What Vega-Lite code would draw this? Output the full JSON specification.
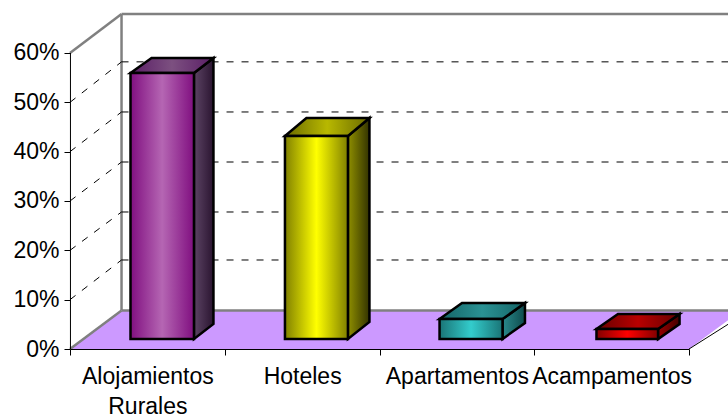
{"$schema":"https://vega.github.io/schema/vega-lite/v6.json","width":658,"height":335,"padding":{"left":70,"top":14,"right":0,"bottom":67},"autosize":{"type":"none"},"background":"white","config":{"view":{"stroke":null},"font":"Liberation Sans"},
"datasets":{
"cats":[{"category":"Alojamientos Rurales","y":0},{"category":"Hoteles","y":0},{"category":"Apartamentos","y":0},{"category":"Acampamentos","y":0}],
"frame":[{"x":0,"x2":0.333,"y":60,"y2":67.9},{"x":0.333,"x2":0.333,"y":67.9,"y2":7.8},{"x":0.333,"x2":4.252,"y":67.9,"y2":67.9},{"x":0.333,"x2":4.252,"y":7.8,"y2":7.8},{"x":0,"x2":0.333,"y":0,"y2":7.8}],
"floor":[{"y":0,"x":0,"x2":4},{"y":7.7,"x":0.333,"x2":4.333}],
"wall":[{"y":18.04},{"y":27.77},{"y":37.9},{"y":48.04},{"y":58.2}],
"diag":[{"y":10,"y2":18.04},{"y":20,"y2":27.77},{"y":30,"y2":37.9},{"y":40,"y2":48.04},{"y":50,"y2":58.2}],
"bars":[
{"category":"Alojamientos Rurales","value":54,"x":0.391,"x2":0.801,"y":55.95,"y2":2.03},
{"category":"Hoteles","value":41,"x":1.389,"x2":1.796,"y":43.18,"y2":2.03},
{"category":"Apartamentos","value":4,"x":2.388,"x2":2.795,"y":6.08,"y2":2.03},
{"category":"Acampamentos","value":2,"x":3.402,"x2":3.8,"y":4.05,"y2":2.03}],
"sides":[
{"category":"Alojamientos Rurales","x":0.801,"y":55.95,"y2":2.03},{"category":"Alojamientos Rurales","x":0.927,"y":58.99,"y2":5.07},
{"category":"Hoteles","x":1.796,"y":43.18,"y2":2.03},{"category":"Hoteles","x":1.935,"y":46.83,"y2":5.47},
{"category":"Apartamentos","x":2.795,"y":6.08,"y2":2.03},{"category":"Apartamentos","x":2.94,"y":9.32,"y2":5.27},
{"category":"Acampamentos","x":3.8,"y":4.05,"y2":2.03},{"category":"Acampamentos","x":3.939,"y":7.09,"y2":5.07}],
"tops":[
{"category":"Alojamientos Rurales","y":55.95,"x":0.391,"x2":0.801},{"category":"Alojamientos Rurales","y":58.99,"x":0.527,"x2":0.927},
{"category":"Hoteles","y":43.18,"x":1.389,"x2":1.796},{"category":"Hoteles","y":46.83,"x":1.528,"x2":1.935},
{"category":"Apartamentos","y":6.08,"x":2.388,"x2":2.795},{"category":"Apartamentos","y":9.32,"x":2.533,"x2":2.94},
{"category":"Acampamentos","y":4.05,"x":3.402,"x2":3.8},{"category":"Acampamentos","y":7.09,"x":3.541,"x2":3.939}]
},
"resolve":{"scale":{"x":"independent"},"axis":{"x":"independent"}},
"layer":[
{"layer":[
{"data":{"name":"floor"},"mark":{"type":"area","orient":"horizontal","fill":"#CC99FF","clip":true},"encoding":{"y":{"field":"y","type":"quantitative","scale":{"domain":[0,67.9],"nice":false,"zero":false},"axis":{"values":[0,10,20,30,40,50,60],"labelExpr":"datum.value + '%'","grid":false,"title":null,"domain":false,"tickColor":"#000000","tickSize":6,"labelFontSize":23,"labelColor":"#000000","labelPadding":5,"labelFont":"Liberation Sans","labelOverlap":false,"zindex":1}},"x":{"field":"x","type":"quantitative","scale":{"domain":[0,4.252],"nice":false,"zero":false},"axis":null},"x2":{"field":"x2"}}},
{"data":{"name":"frame"},"mark":{"type":"rule","stroke":"#808080","strokeWidth":2.5},"encoding":{"x":{"field":"x","type":"quantitative"},"x2":{"field":"x2"},"y":{"field":"y","type":"quantitative"},"y2":{"field":"y2"}}},
{"data":{"values":[{"x":0.003,"y":0,"y2":60}]},"mark":{"type":"rule","stroke":"#000000","strokeWidth":1},"encoding":{"x":{"field":"x","type":"quantitative"},"y":{"field":"y","type":"quantitative"},"y2":{"field":"y2"}}},
{"data":{"values":[{"x":4,"x2":4.252,"y":0,"y2":5.0}]},"mark":{"type":"rule","stroke":"#000000","strokeWidth":1,"clip":true},"encoding":{"x":{"field":"x","type":"quantitative"},"x2":{"field":"x2"},"y":{"field":"y","type":"quantitative"},"y2":{"field":"y2"}}},
{"data":{"name":"wall"},"mark":{"type":"rule","stroke":"#000000","strokeWidth":1,"strokeDash":[7,8],"clip":true},"encoding":{"x":{"datum":0.333,"type":"quantitative"},"x2":{"datum":4.252},"y":{"field":"y","type":"quantitative"}}},
{"data":{"name":"diag"},"mark":{"type":"rule","stroke":"#000000","strokeWidth":1,"strokeDash":[7,8]},"encoding":{"x":{"datum":0,"type":"quantitative"},"x2":{"datum":0.333},"y":{"field":"y","type":"quantitative"},"y2":{"field":"y2"}}},

{"data":{"name":"sides"},"transform":[{"filter":"datum.category=='Alojamientos Rurales'"}],"mark":{"type":"area","stroke":"#000000","strokeWidth":2.5,"color":{"gradient":"linear","x1":0,"y1":0,"x2":1,"y2":0,"stops":[{"offset":0,"color":"#5c4464"},{"offset":1,"color":"#2a1430"}]}},"encoding":{"x":{"field":"x","type":"quantitative"},"y":{"field":"y","type":"quantitative"},"y2":{"field":"y2"}}},
{"data":{"name":"tops"},"transform":[{"filter":"datum.category=='Alojamientos Rurales'"}],"mark":{"type":"area","orient":"horizontal","stroke":"#000000","strokeWidth":2.5,"color":{"gradient":"linear","x1":0,"y1":0,"x2":1,"y2":0,"stops":[{"offset":0,"color":"#5a1e66"},{"offset":0.5,"color":"#7c5080"},{"offset":1,"color":"#5a1e66"}]}},"encoding":{"y":{"field":"y","type":"quantitative"},"x":{"field":"x","type":"quantitative"},"x2":{"field":"x2"}}},
{"data":{"name":"bars"},"transform":[{"filter":"datum.category=='Alojamientos Rurales'"}],"mark":{"type":"bar","stroke":"#000000","strokeWidth":2.5,"color":{"gradient":"linear","x1":0,"y1":0,"x2":1,"y2":0,"stops":[{"offset":0,"color":"#800f80"},{"offset":0.5,"color":"#b566b3"},{"offset":1,"color":"#800f80"}]}},"encoding":{"x":{"field":"x","type":"quantitative"},"x2":{"field":"x2"},"y":{"field":"y","type":"quantitative"},"y2":{"field":"y2"}}},

{"data":{"name":"sides"},"transform":[{"filter":"datum.category=='Hoteles'"}],"mark":{"type":"area","stroke":"#000000","strokeWidth":2.5,"color":{"gradient":"linear","x1":0,"y1":0,"x2":1,"y2":0,"stops":[{"offset":0,"color":"#8f8f00"},{"offset":1,"color":"#333300"}]}},"encoding":{"x":{"field":"x","type":"quantitative"},"y":{"field":"y","type":"quantitative"},"y2":{"field":"y2"}}},
{"data":{"name":"tops"},"transform":[{"filter":"datum.category=='Hoteles'"}],"mark":{"type":"area","orient":"horizontal","stroke":"#000000","strokeWidth":2.5,"color":{"gradient":"linear","x1":0,"y1":0,"x2":1,"y2":0,"stops":[{"offset":0,"color":"#6a6a00"},{"offset":0.5,"color":"#b8b800"},{"offset":1,"color":"#6a6a00"}]}},"encoding":{"y":{"field":"y","type":"quantitative"},"x":{"field":"x","type":"quantitative"},"x2":{"field":"x2"}}},
{"data":{"name":"bars"},"transform":[{"filter":"datum.category=='Hoteles'"}],"mark":{"type":"bar","stroke":"#000000","strokeWidth":2.5,"color":{"gradient":"linear","x1":0,"y1":0,"x2":1,"y2":0,"stops":[{"offset":0,"color":"#808000"},{"offset":0.5,"color":"#ffff00"},{"offset":1,"color":"#808000"}]}},"encoding":{"x":{"field":"x","type":"quantitative"},"x2":{"field":"x2"},"y":{"field":"y","type":"quantitative"},"y2":{"field":"y2"}}},

{"data":{"name":"sides"},"transform":[{"filter":"datum.category=='Apartamentos'"}],"mark":{"type":"area","stroke":"#000000","strokeWidth":2.5,"color":{"gradient":"linear","x1":0,"y1":0,"x2":1,"y2":0,"stops":[{"offset":0,"color":"#2a8a8c"},{"offset":1,"color":"#0e4a4c"}]}},"encoding":{"x":{"field":"x","type":"quantitative"},"y":{"field":"y","type":"quantitative"},"y2":{"field":"y2"}}},
{"data":{"name":"tops"},"transform":[{"filter":"datum.category=='Apartamentos'"}],"mark":{"type":"area","orient":"horizontal","stroke":"#000000","strokeWidth":2.5,"color":{"gradient":"linear","x1":0,"y1":0,"x2":1,"y2":0,"stops":[{"offset":0,"color":"#146466"},{"offset":0.5,"color":"#2a9294"},{"offset":1,"color":"#146466"}]}},"encoding":{"y":{"field":"y","type":"quantitative"},"x":{"field":"x","type":"quantitative"},"x2":{"field":"x2"}}},
{"data":{"name":"bars"},"transform":[{"filter":"datum.category=='Apartamentos'"}],"mark":{"type":"bar","stroke":"#000000","strokeWidth":2.5,"color":{"gradient":"linear","x1":0,"y1":0,"x2":1,"y2":0,"stops":[{"offset":0,"color":"#1a7476"},{"offset":0.5,"color":"#33cccc"},{"offset":1,"color":"#1a7476"}]}},"encoding":{"x":{"field":"x","type":"quantitative"},"x2":{"field":"x2"},"y":{"field":"y","type":"quantitative"},"y2":{"field":"y2"}}},

{"data":{"name":"sides"},"transform":[{"filter":"datum.category=='Acampamentos'"}],"mark":{"type":"area","stroke":"#000000","strokeWidth":2.5,"color":{"gradient":"linear","x1":0,"y1":0,"x2":1,"y2":0,"stops":[{"offset":0,"color":"#990000"},{"offset":1,"color":"#440000"}]}},"encoding":{"x":{"field":"x","type":"quantitative"},"y":{"field":"y","type":"quantitative"},"y2":{"field":"y2"}}},
{"data":{"name":"tops"},"transform":[{"filter":"datum.category=='Acampamentos'"}],"mark":{"type":"area","orient":"horizontal","stroke":"#000000","strokeWidth":2.5,"color":{"gradient":"linear","x1":0,"y1":0,"x2":1,"y2":0,"stops":[{"offset":0,"color":"#660000"},{"offset":0.5,"color":"#b80000"},{"offset":1,"color":"#660000"}]}},"encoding":{"y":{"field":"y","type":"quantitative"},"x":{"field":"x","type":"quantitative"},"x2":{"field":"x2"}}},
{"data":{"name":"bars"},"transform":[{"filter":"datum.category=='Acampamentos'"}],"mark":{"type":"bar","stroke":"#000000","strokeWidth":2.5,"color":{"gradient":"linear","x1":0,"y1":0,"x2":1,"y2":0,"stops":[{"offset":0,"color":"#800000"},{"offset":0.5,"color":"#ff0000"},{"offset":1,"color":"#800000"}]}},"encoding":{"x":{"field":"x","type":"quantitative"},"x2":{"field":"x2"},"y":{"field":"y","type":"quantitative"},"y2":{"field":"y2"}}}
]},
{"data":{"name":"cats"},"mark":{"type":"point","opacity":0},"encoding":{"x":{"field":"category","type":"nominal","sort":null,"scale":{"type":"band","range":[0,619],"paddingInner":0,"paddingOuter":0},"axis":{"orient":"bottom","title":null,"labelAngle":0,"labelFontSize":23,"labelColor":"#000000","labelFont":"Liberation Sans","labelOverlap":false,"labelLimit":400,"labelLineHeight":30,"labelPadding":10,"tickBand":"extent","tickColor":"#000000","tickSize":6,"domainColor":"#000000","zindex":1,"labelExpr":"datum.label == 'Alojamientos Rurales' ? ['Alojamientos','Rurales'] : datum.label"}},"y":{"field":"y","type":"quantitative"}}}
]}
